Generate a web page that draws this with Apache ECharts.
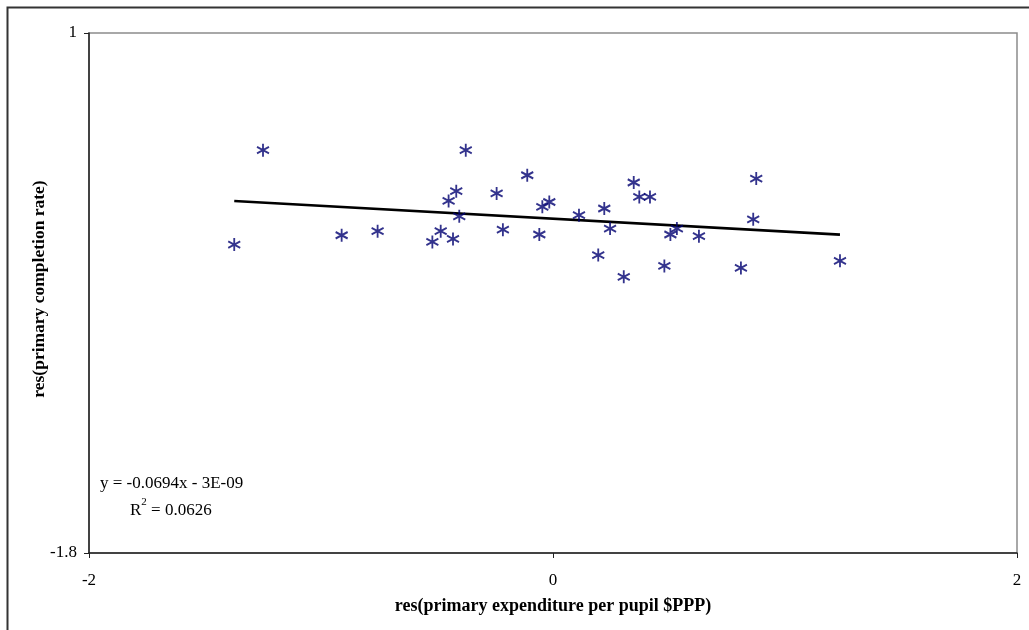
<!DOCTYPE html>
<html>
<head>
<meta charset="utf-8">
<style>
  html, body { margin: 0; padding: 0; background: #ffffff; }
  #chart { width: 1029px; height: 630px; }
</style>
<script src="https://cdn.jsdelivr.net/npm/echarts@6/dist/echarts.min.js"></script>
</head>
<body>
<div id="chart"></div>
<script>
// Residual of primary expenditure per pupil ($PPP)
const resExpenditure = [
  -1.374, -1.250, -0.911, -0.756, -0.520, -0.484, -0.450, -0.431, -0.417, -0.404,
  -0.376, -0.243, -0.216, -0.111, -0.059, -0.046, -0.016, 0.112, 0.195, 0.221,
  0.246, 0.305, 0.348, 0.372, 0.418, 0.480, 0.506, 0.534, 0.629, 0.810,
  0.863, 0.876, 1.237
];
// Residual of primary completion rate
const resCompletion = [
  -0.139, 0.369, -0.089, -0.067, -0.125, -0.067, 0.096, -0.109, 0.148, 0.013,
  0.369, 0.136, -0.059, 0.234, -0.085, 0.064, 0.090, 0.019, -0.196, 0.055,
  -0.053, -0.313, 0.195, 0.117, 0.117, -0.254, -0.085, -0.053, -0.094, -0.265,
  -0.003, 0.216, -0.227
];
// Linear trend: y = slope * x + intercept
const trendSlope = -0.0694;
const trendIntercept = -3e-9;
const xTicks = [-2, 0, 2];
const yTicks = [-1.8, 1];
const xTitle = 'res(primary expenditure per pupil $PPP)';
const yTitle = 'res(primary completion rate)';

const points = resExpenditure.map((x, i) => [x, resCompletion[i]]);
const xMinData = Math.min(...resExpenditure);
const xMaxData = Math.max(...resExpenditure);
const trendLine = [
  [xMinData, trendSlope * xMinData + trendIntercept],
  [xMaxData, trendSlope * xMaxData + trendIntercept]
];

const serif = '"Liberation Serif", "Times New Roman", serif';
const starPath = 'path://M5,0L5,10M0.7,2.5L9.3,7.5M0.7,7.5L9.3,2.5';

const chart = echarts.init(document.getElementById('chart'), null, { renderer: 'canvas' });
chart.setOption({
  backgroundColor: '#ffffff',
  animation: false,
  grid: {
    left: 89, top: 33, right: 12, bottom: 77,
    show: true, borderColor: '#8c8c8c', borderWidth: 1.5, backgroundColor: 'transparent'
  },
  xAxis: {
    type: 'value',
    min: xTicks[0], max: xTicks[xTicks.length - 1], interval: 2,
    axisLine: { show: true, onZero: false, lineStyle: { color: '#222', width: 1.5 } },
    axisTick: { show: true, length: 5, lineStyle: { color: '#222', width: 1 } },
    splitLine: { show: false },
    axisLabel: { color: '#000', fontFamily: serif, fontSize: 17, margin: 19 },
    name: xTitle,
    nameLocation: 'middle', nameGap: 44,
    nameTextStyle: { color: '#000', fontFamily: serif, fontSize: 18, fontWeight: 'bold' }
  },
  yAxis: {
    type: 'value',
    min: yTicks[0], max: yTicks[1],
    axisLine: { show: true, onZero: false, lineStyle: { color: '#222', width: 1.5 } },
    axisTick: { show: true, length: 5, customValues: yTicks, lineStyle: { color: '#222', width: 1 } },
    splitLine: { show: false },
    axisLabel: { color: '#000', fontFamily: serif, fontSize: 17, margin: 12, customValues: yTicks }
  },
  series: [
    {
      type: 'line',
      data: trendLine,
      symbol: 'none',
      lineStyle: { color: '#000', width: 2.6 },
      silent: true,
      z: 2
    },
    {
      type: 'scatter',
      data: points,
      symbol: starPath,
      symbolSize: [12, 13],
      itemStyle: { color: 'transparent', borderColor: '#000070', borderWidth: 1.9 },
      z: 3
    }
  ],
  graphic: [
    {
      type: 'rect',
      shape: { x: 7.5, y: 7.5, width: 1040, height: 640 },
      style: { fill: 'none', stroke: '#333', lineWidth: 2 },
      silent: true, z: -1
    },
    {
      type: 'text',
      x: 39, y: 289,
      rotation: Math.PI / 2,
      style: {
        text: yTitle,
        font: 'bold 17.5px "Liberation Serif", "Times New Roman", serif',
        fill: '#000',
        align: 'center',
        verticalAlign: 'middle'
      }
    },
    {
      type: 'text',
      left: 100, top: 475,
      style: {
        text: 'y = -0.0694x - 3E-09',
        font: '17px "Liberation Serif", "Times New Roman", serif',
        fill: '#000'
      }
    },
    {
      type: 'text',
      left: 130, top: 497,
      style: {
        text: '{b|R}{s|2}{b| = 0.0626}',
        rich: {
          b: { fontFamily: serif, fontSize: 17, fill: '#000', color: '#000', verticalAlign: 'bottom', lineHeight: 22 },
          s: { fontFamily: serif, fontSize: 11, fill: '#000', color: '#000', verticalAlign: 'top', lineHeight: 22, padding: [0, 0, 9, 0] }
        }
      }
    }
  ]
});
</script>
</body>
</html>
